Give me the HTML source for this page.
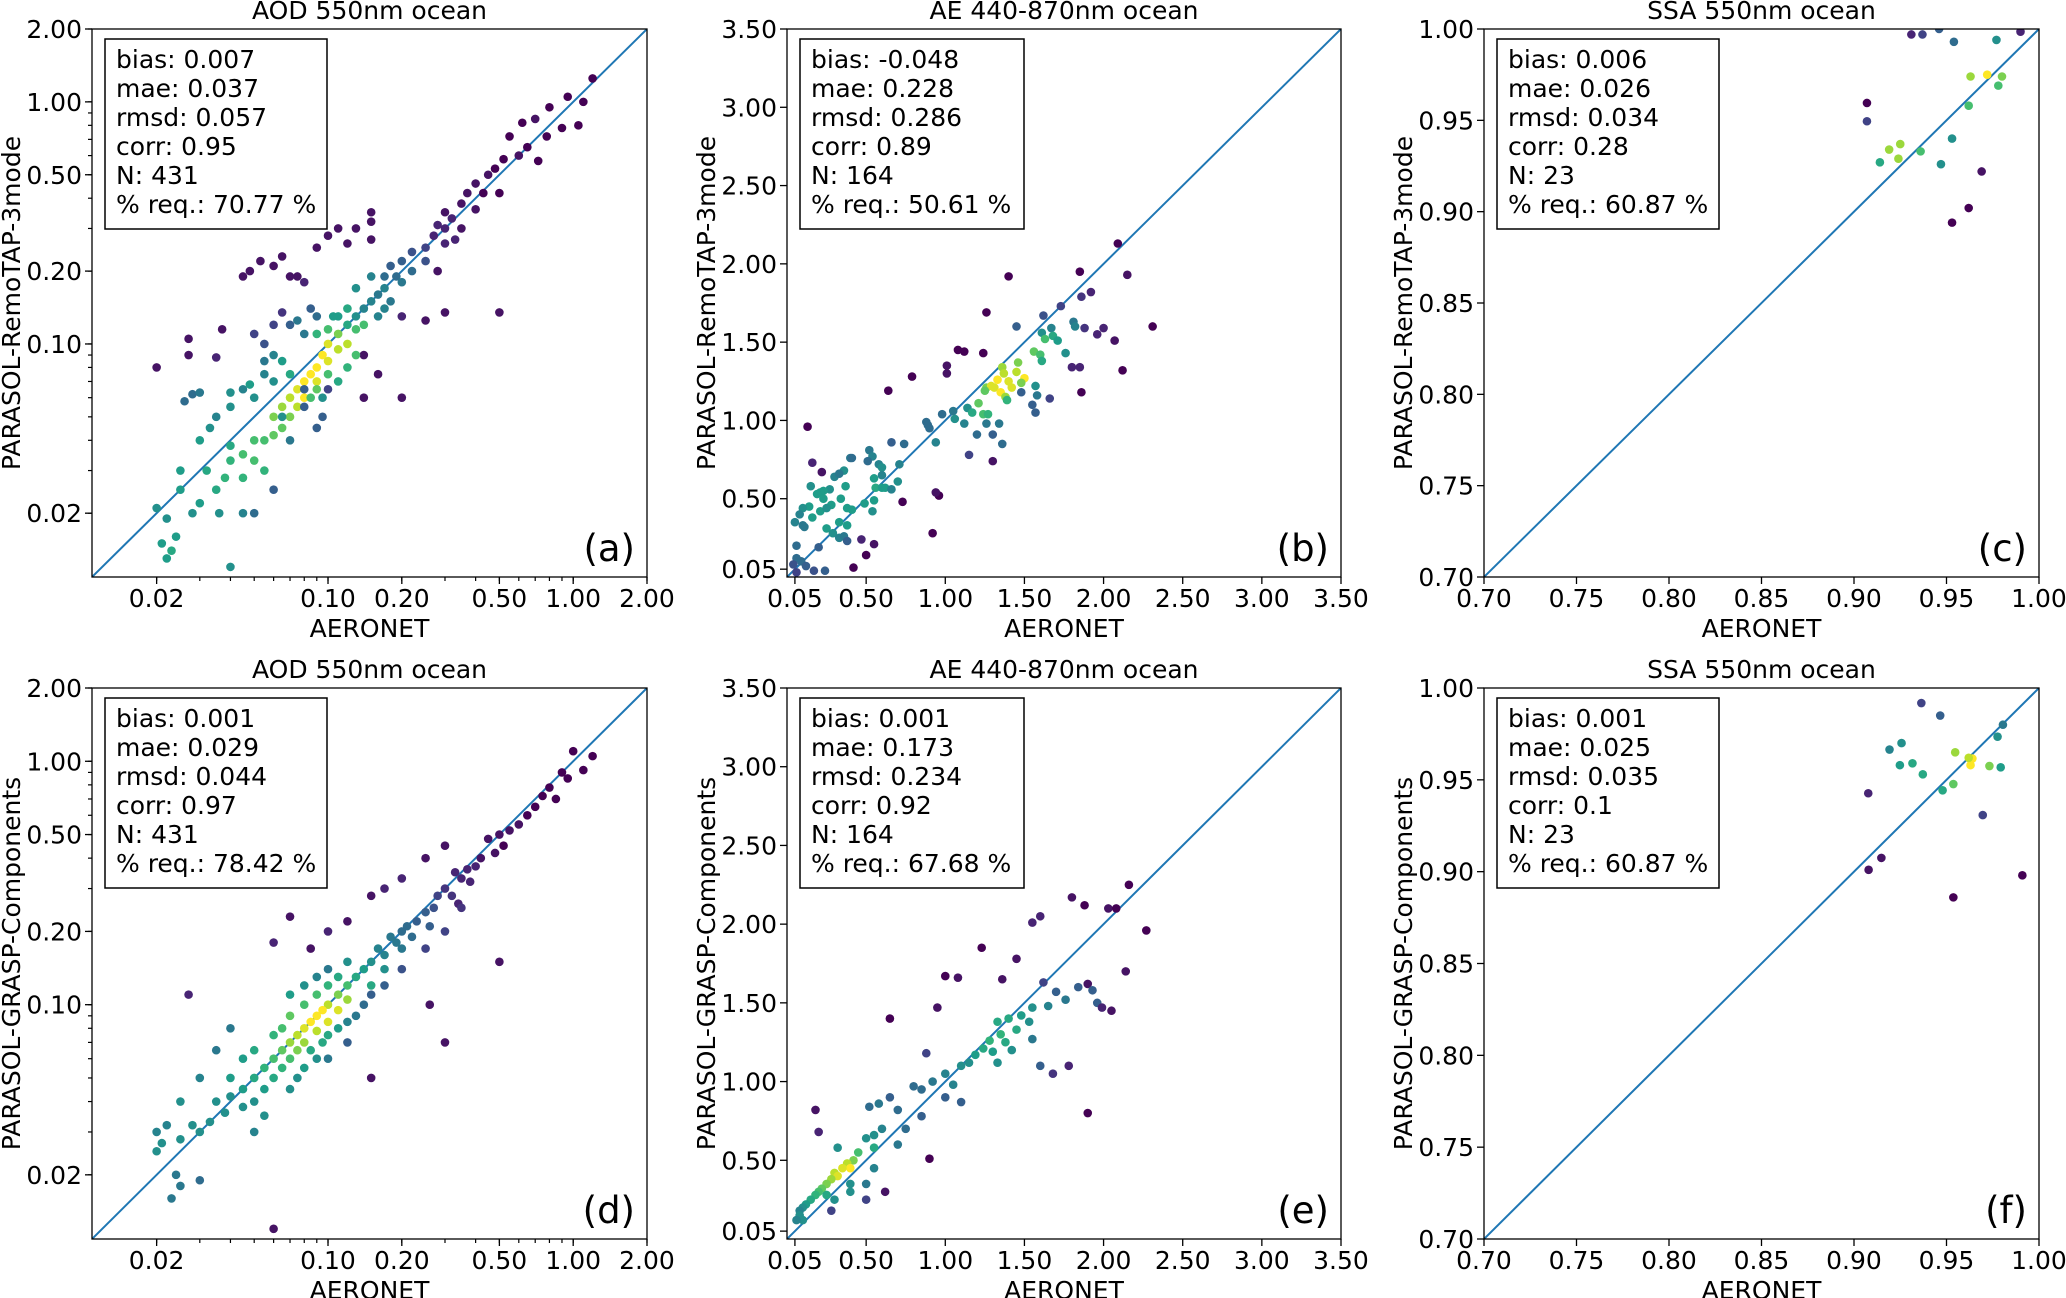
<!DOCTYPE html>
<html><head><meta charset="utf-8"><style>
html,body{margin:0;padding:0;background:#fff}
svg{display:block;font-family:"DejaVu Sans","Liberation Sans",sans-serif}
</style></head><body>
<svg id="fig" width="2066" height="1298" viewBox="0 0 2066 1298" xmlns="http://www.w3.org/2000/svg"></svg>
<script>
// ---- data arrays ----
const aodTicks=[0.02,0.1,0.2,0.5,1.0,2.0];
const aodTickLabels=["0.02","0.10","0.20","0.50","1.00","2.00"];
const aeTicks=[0.05,0.5,1.0,1.5,2.0,2.5,3.0,3.5];
const aeTickLabels=["0.05","0.50","1.00","1.50","2.00","2.50","3.00","3.50"];
const ssaTicks=[0.70,0.75,0.80,0.85,0.90,0.95,1.00];
const ssaTickLabels=["0.70","0.75","0.80","0.85","0.90","0.95","1.00"];

const aX=[1.2,0.95,1.1,0.8,0.7,0.62,0.9,1.05,0.55,0.78,0.65,0.6,0.52,0.72,0.48,0.45,0.4,0.43,0.5,0.37,0.35,0.4,0.3,0.32,0.28,0.3,0.35,0.27,0.33,0.3,0.25,0.22,0.25,0.2,0.18,0.22,0.19,0.2,0.17,0.16,0.18,0.15,0.17,0.14,0.16,0.13,0.12,0.13,0.11,0.12,0.1,0.11,0.095,0.1,0.09,0.085,0.08,0.09,0.075,0.08,0.07,0.075,0.065,0.07,0.06,0.065,0.06,0.055,0.05,0.045,0.05,0.04,0.055,0.045,0.038,0.035,0.032,0.03,0.025,0.028,0.02,0.022,0.024,0.023,0.021,0.022,0.02,0.027,0.027,0.035,0.037,0.045,0.048,0.053,0.06,0.065,0.07,0.075,0.08,0.09,0.1,0.11,0.13,0.12,0.15,0.15,0.15,0.2,0.14,0.14,0.16,0.25,0.3,0.5,0.28,0.2,0.1,0.09,0.095,0.08,0.08,0.07,0.065,0.05,0.055,0.06,0.065,0.07,0.075,0.08,0.085,0.09,0.07,0.06,0.055,0.05,0.045,0.04,0.035,0.03,0.028,0.033,0.03,0.026,0.04,0.048,0.055,0.06,0.065,0.025,0.04,0.036,0.045,0.05,0.06,0.04,0.13,0.14,0.12,0.11,0.15,0.17,0.13,0.12,0.1,0.11,0.09,0.095,0.085,0.1,0.09,0.105];
const aY=[1.25,1.05,1.0,0.95,0.85,0.82,0.78,0.8,0.72,0.72,0.65,0.6,0.58,0.57,0.53,0.5,0.46,0.42,0.42,0.42,0.38,0.36,0.35,0.33,0.31,0.3,0.3,0.28,0.27,0.26,0.25,0.24,0.22,0.22,0.21,0.2,0.19,0.18,0.19,0.16,0.15,0.15,0.14,0.14,0.13,0.13,0.12,0.115,0.11,0.1,0.1,0.095,0.09,0.085,0.08,0.075,0.07,0.07,0.065,0.06,0.06,0.055,0.055,0.05,0.05,0.045,0.042,0.04,0.04,0.035,0.033,0.033,0.03,0.028,0.028,0.025,0.03,0.022,0.025,0.02,0.021,0.019,0.016,0.014,0.015,0.013,0.08,0.105,0.09,0.088,0.115,0.19,0.2,0.22,0.21,0.23,0.19,0.19,0.18,0.25,0.28,0.3,0.3,0.26,0.35,0.32,0.27,0.06,0.09,0.06,0.075,0.125,0.135,0.135,0.2,0.13,0.065,0.045,0.05,0.065,0.055,0.04,0.05,0.11,0.1,0.12,0.135,0.12,0.125,0.11,0.14,0.13,0.075,0.07,0.075,0.06,0.065,0.055,0.05,0.04,0.062,0.045,0.063,0.058,0.063,0.068,0.085,0.09,0.085,0.03,0.038,0.02,0.02,0.02,0.025,0.012,0.17,0.12,0.14,0.13,0.19,0.17,0.09,0.08,0.075,0.07,0.065,0.06,0.06,0.115,0.11,0.13];
const aD=[0,0,0,0,0.05,0,0,0,0,0,0,0.05,0,0,0,0.05,0.05,0,0,0.05,0.05,0.05,0.05,0.1,0.1,0.1,0.05,0.1,0.1,0.1,0.2,0.25,0.25,0.3,0.3,0.35,0.35,0.4,0.35,0.4,0.4,0.45,0.45,0.45,0.45,0.5,0.6,0.7,0.8,0.9,0.95,0.9,1,0.95,1,1,1,0.95,0.95,1,0.9,0.9,0.85,0.8,0.8,0.75,0.75,0.7,0.7,0.7,0.7,0.65,0.65,0.65,0.65,0.6,0.6,0.55,0.55,0.5,0.5,0.5,0.55,0.6,0.55,0.55,0.05,0.05,0.05,0.1,0.05,0.05,0.05,0.05,0.05,0.05,0.05,0.05,0.1,0.05,0.05,0.05,0.05,0.05,0.05,0.05,0.05,0.05,0.05,0.05,0.05,0.05,0.05,0.05,0.05,0.1,0.2,0.3,0.3,0.3,0.3,0.4,0.5,0.2,0.25,0.2,0.15,0.3,0.4,0.4,0.3,0.35,0.6,0.5,0.45,0.5,0.45,0.5,0.45,0.55,0.35,0.5,0.4,0.35,0.5,0.55,0.4,0.45,0.55,0.55,0.6,0.5,0.45,0.35,0.3,0.5,0.5,0.7,0.6,0.55,0.45,0.45,0.7,0.65,0.7,0.6,0.75,0.5,0.7,0.7,0.65,0.55];

const dX=[1.2,1.0,1.1,0.9,0.95,0.8,0.75,0.85,0.7,0.65,0.6,0.55,0.5,0.52,0.45,0.48,0.42,0.4,0.37,0.35,0.33,0.38,0.3,0.32,0.28,0.34,0.27,0.25,0.23,0.26,0.21,0.22,0.2,0.19,0.18,0.2,0.17,0.16,0.15,0.17,0.14,0.13,0.15,0.12,0.11,0.12,0.1,0.11,0.095,0.09,0.1,0.085,0.08,0.09,0.075,0.08,0.07,0.075,0.065,0.07,0.06,0.065,0.055,0.06,0.05,0.055,0.045,0.05,0.04,0.045,0.038,0.035,0.033,0.03,0.028,0.025,0.02,0.021,0.022,0.024,0.025,0.023,0.03,0.06,0.05,0.055,0.04,0.045,0.05,0.06,0.065,0.07,0.08,0.09,0.1,0.11,0.12,0.1,0.09,0.08,0.07,0.085,0.09,0.095,0.1,0.11,0.12,0.13,0.14,0.08,0.075,0.07,0.1,0.12,0.15,0.17,0.2,0.25,0.3,0.35,0.5,0.26,0.3,0.15,0.027,0.06,0.07,0.085,0.1,0.12,0.15,0.17,0.2,0.25,0.3,0.04,0.035,0.03,0.025,0.02];
const dY=[1.05,1.1,0.92,0.9,0.85,0.78,0.72,0.7,0.65,0.6,0.55,0.52,0.5,0.45,0.48,0.42,0.4,0.37,0.36,0.33,0.35,0.32,0.3,0.28,0.28,0.26,0.25,0.24,0.22,0.21,0.21,0.19,0.2,0.18,0.19,0.17,0.16,0.17,0.15,0.14,0.14,0.13,0.12,0.12,0.11,0.105,0.1,0.095,0.095,0.09,0.085,0.085,0.08,0.078,0.075,0.07,0.07,0.065,0.065,0.06,0.06,0.055,0.055,0.05,0.05,0.045,0.045,0.04,0.042,0.038,0.036,0.04,0.033,0.03,0.032,0.028,0.025,0.027,0.032,0.02,0.018,0.016,0.019,0.012,0.03,0.035,0.05,0.06,0.065,0.075,0.08,0.09,0.1,0.11,0.12,0.13,0.15,0.14,0.13,0.12,0.11,0.065,0.06,0.07,0.075,0.08,0.085,0.09,0.1,0.055,0.05,0.045,0.06,0.07,0.11,0.12,0.14,0.17,0.2,0.25,0.15,0.1,0.07,0.05,0.11,0.18,0.23,0.17,0.2,0.22,0.28,0.3,0.33,0.4,0.45,0.08,0.065,0.05,0.04,0.03];
const dD=[0,0,0,0,0,0,0,0,0,0,0.05,0.05,0.05,0,0.05,0.05,0.05,0.1,0.1,0.1,0.1,0.1,0.15,0.15,0.2,0.1,0.25,0.3,0.3,0.3,0.35,0.35,0.35,0.4,0.4,0.4,0.45,0.45,0.5,0.5,0.55,0.6,0.6,0.7,0.8,0.85,0.9,0.95,1,1,0.95,1,0.95,0.9,0.9,0.85,0.85,0.8,0.75,0.7,0.7,0.65,0.65,0.6,0.6,0.55,0.55,0.5,0.5,0.5,0.5,0.5,0.5,0.5,0.5,0.5,0.5,0.5,0.45,0.4,0.4,0.4,0.35,0.05,0.45,0.5,0.55,0.55,0.6,0.65,0.7,0.75,0.7,0.7,0.65,0.6,0.5,0.4,0.45,0.5,0.55,0.6,0.5,0.6,0.6,0.55,0.45,0.4,0.35,0.55,0.5,0.5,0.4,0.3,0.3,0.3,0.25,0.2,0.2,0.15,0.05,0.05,0.05,0.05,0.1,0.1,0.05,0.05,0.1,0.05,0.05,0.1,0.1,0.05,0.05,0.4,0.4,0.45,0.5,0.45];

const bX=[2.09,1.85,2.15,1.40,1.92,1.86,1.73,1.62,1.26,1.81,1.82,1.45,1.67,1.88,2.00,1.96,2.31,2.07,1.61,1.68,1.63,1.71,1.56,1.60,1.76,1.61,1.80,1.85,2.12,1.86,1.46,1.36,1.37,1.45,1.50,1.40,1.31,1.35,1.26,1.38,1.42,1.33,1.29,1.25,1.48,1.57,1.58,1.39,1.66,1.55,1.57,1.48,1.08,1.12,1.24,1.01,1.01,0.79,0.64,1.05,1.14,1.17,1.24,1.27,1.21,1.26,1.12,1.20,1.34,1.30,1.36,0.98,1.06,0.90,0.88,0.89,0.94,1.15,1.30,0.66,0.74,0.52,0.54,0.51,0.40,0.41,0.58,0.60,0.71,0.70,0.55,0.60,0.36,0.30,0.33,0.22,0.16,0.37,0.56,0.60,0.62,0.66,0.27,0.23,0.21,0.15,0.19,0.23,0.34,0.28,0.55,0.49,0.38,0.41,0.54,0.14,0.10,0.21,0.25,0.16,0.33,0.38,0.25,0.08,0.05,0.10,0.11,0.29,0.33,0.36,0.38,0.47,0.50,0.55,0.73,0.13,0.20,0.06,0.06,0.09,0.12,0.04,0.06,0.17,0.24,0.42,0.92,0.96,0.94];
const bY=[2.13,1.95,1.93,1.92,1.82,1.79,1.73,1.67,1.69,1.63,1.60,1.60,1.59,1.59,1.59,1.55,1.60,1.51,1.56,1.54,1.52,1.51,1.44,1.42,1.43,1.38,1.34,1.34,1.32,1.18,1.37,1.34,1.30,1.31,1.27,1.25,1.21,1.18,1.21,1.15,1.21,1.26,1.22,1.19,1.24,1.22,1.16,1.13,1.14,1.10,1.05,1.18,1.45,1.44,1.43,1.30,1.35,1.28,1.19,1.06,1.08,1.05,1.04,1.04,1.11,0.98,0.98,0.91,0.98,0.91,0.85,1.04,1.01,0.95,0.99,0.97,0.86,0.78,0.74,0.86,0.85,0.81,0.77,0.74,0.76,0.76,0.72,0.70,0.72,0.61,0.63,0.65,0.68,0.64,0.66,0.67,0.73,0.58,0.57,0.57,0.57,0.56,0.56,0.55,0.54,0.58,0.53,0.50,0.50,0.46,0.49,0.47,0.44,0.43,0.42,0.45,0.44,0.42,0.44,0.38,0.35,0.33,0.31,0.40,0.35,0.33,0.32,0.28,0.25,0.26,0.23,0.24,0.14,0.21,0.48,0.96,0.19,0.20,0.12,0.10,0.07,0.08,0.03,0.04,0.04,0.06,0.28,0.52,0.54];
const bD=[0,0,0.05,0,0.1,0.15,0.2,0.25,0,0.4,0.45,0.3,0.45,0.15,0.1,0.1,0,0.05,0.5,0.6,0.7,0.55,0.75,0.7,0.5,0.6,0.1,0.1,0,0,0.8,0.85,0.9,0.9,1,0.95,0.95,1,0.8,0.85,0.95,1,0.95,0.75,0.8,0.5,0.4,0.65,0.2,0.3,0.3,0.3,0,0,0,0.05,0.05,0,0,0.4,0.5,0.6,0.7,0.65,0.75,0.4,0.45,0.35,0.4,0.3,0.35,0.35,0.5,0.35,0.35,0.35,0.45,0.2,0.05,0.3,0.35,0.4,0.45,0.35,0.4,0.35,0.45,0.5,0.45,0.5,0.55,0.45,0.5,0.45,0.4,0.05,0.1,0.55,0.6,0.55,0.55,0.45,0.5,0.55,0.55,0.5,0.55,0.55,0.55,0.55,0.55,0.55,0.55,0.55,0.5,0.55,0.5,0.55,0.5,0.55,0.55,0.55,0.55,0.45,0.45,0.4,0.4,0.5,0.45,0.4,0.3,0.1,0,0.05,0,0,0.3,0.35,0.35,0.35,0.3,0.25,0.2,0.25,0.3,0,0,0,0.05];

const eX=[2.16,1.80,2.03,2.08,1.88,1.60,1.55,2.27,1.23,1.00,0.65,1.45,1.36,1.08,1.90,1.62,1.70,1.84,1.93,1.96,1.99,2.05,2.14,1.76,1.65,1.55,1.48,1.40,1.53,1.33,1.45,1.35,1.28,1.38,1.24,1.30,1.19,1.42,1.33,1.55,1.60,1.68,1.78,1.90,1.10,1.15,1.00,1.05,0.92,0.88,0.95,0.80,0.85,1.00,1.10,0.65,0.70,0.58,0.52,0.60,0.55,0.50,0.55,0.45,0.42,0.38,0.40,0.35,0.30,0.32,0.28,0.25,0.22,0.20,0.18,0.15,0.12,0.10,0.08,0.08,0.10,0.06,0.18,0.20,0.32,0.55,0.50,0.40,0.25,0.30,0.40,0.70,0.75,0.85,0.90,0.62,0.50,0.28];
const eY=[2.25,2.17,2.10,2.10,2.12,2.05,2.01,1.96,1.85,1.67,1.40,1.78,1.65,1.66,1.62,1.63,1.57,1.60,1.58,1.50,1.47,1.45,1.70,1.52,1.48,1.47,1.42,1.40,1.38,1.38,1.33,1.30,1.26,1.25,1.21,1.19,1.17,1.20,1.12,1.27,1.10,1.05,1.10,0.80,1.10,1.12,1.05,0.98,1.00,1.18,1.47,0.97,0.95,0.90,0.87,0.90,0.82,0.86,0.84,0.70,0.66,0.64,0.58,0.55,0.50,0.48,0.45,0.45,0.42,0.40,0.38,0.35,0.32,0.30,0.28,0.25,0.22,0.20,0.18,0.15,0.12,0.12,0.82,0.68,0.58,0.45,0.35,0.35,0.28,0.25,0.30,0.60,0.70,0.78,0.51,0.30,0.25,0.18];
const eD=[0,0.05,0.05,0,0,0.1,0.1,0,0,0,0,0.05,0.05,0.05,0.05,0.2,0.3,0.3,0.3,0.3,0.1,0.05,0.05,0.4,0.45,0.5,0.55,0.6,0.5,0.6,0.6,0.65,0.65,0.6,0.6,0.55,0.55,0.5,0.5,0.4,0.3,0.15,0.1,0,0.5,0.5,0.45,0.45,0.4,0.2,0.05,0.35,0.35,0.3,0.3,0.3,0.35,0.4,0.35,0.45,0.5,0.5,0.6,0.7,0.8,0.9,1,0.95,0.9,0.95,0.85,0.8,0.75,0.7,0.65,0.6,0.55,0.5,0.45,0.5,0.5,0.45,0.05,0.1,0.5,0.45,0.4,0.5,0.6,0.5,0.5,0.4,0.35,0.3,0,0.05,0.2,0.2];

const cX=[0.931,0.937,0.946,0.954,0.977,0.990,0.963,0.972,0.980,0.978,0.962,0.907,0.907,0.953,0.919,0.925,0.936,0.914,0.924,0.947,0.969,0.962,0.953];
const cY=[0.997,0.997,1.000,0.993,0.994,0.9985,0.974,0.975,0.974,0.969,0.958,0.9595,0.9495,0.940,0.934,0.937,0.933,0.927,0.929,0.926,0.922,0.902,0.894];
const cD=[0.1,0.2,0.3,0.35,0.5,0.1,0.85,1,0.8,0.7,0.7,0,0.2,0.5,0.85,0.85,0.7,0.6,0.85,0.5,0.05,0,0];

const fX=[0.9364,0.9466,0.9805,0.9776,0.9257,0.9192,0.9547,0.964,0.963,0.9248,0.9316,0.9732,0.9793,0.9372,0.9537,0.9479,0.9077,0.9696,0.9148,0.9079,0.991,0.9537,0.962];
const fY=[0.9918,0.985,0.980,0.9735,0.970,0.9665,0.965,0.9616,0.958,0.958,0.959,0.9575,0.9568,0.953,0.9477,0.9443,0.9427,0.9308,0.9075,0.901,0.898,0.886,0.962];
const fD=[0.2,0.3,0.4,0.5,0.5,0.45,0.85,1,1,0.55,0.6,0.8,0.55,0.6,0.75,0.6,0.1,0.2,0.05,0.05,0,0,0.9];

const statsA=["bias: 0.007","mae: 0.037","rmsd: 0.057","corr: 0.95","N: 431","% req.: 70.77 %"];
const statsB=["bias: -0.048","mae: 0.228","rmsd: 0.286","corr: 0.89","N: 164","% req.: 50.61 %"];
const statsC=["bias: 0.006","mae: 0.026","rmsd: 0.034","corr: 0.28","N: 23","% req.: 60.87 %"];
const statsD=["bias: 0.001","mae: 0.029","rmsd: 0.044","corr: 0.97","N: 431","% req.: 78.42 %"];
const statsE=["bias: 0.001","mae: 0.173","rmsd: 0.234","corr: 0.92","N: 164","% req.: 67.68 %"];
const statsF=["bias: 0.001","mae: 0.025","rmsd: 0.035","corr: 0.1","N: 23","% req.: 60.87 %"];

// ---- rendering ----
const NS="http://www.w3.org/2000/svg";
const svg=document.getElementById('fig');
function mk(tag,attrs,parent){const e=document.createElementNS(NS,tag);for(const k in attrs)e.setAttribute(k,attrs[k]);(parent||svg).appendChild(e);return e;}
const VIR=[[68,1,84],[72,40,120],[62,74,137],[49,104,142],[38,130,142],[31,158,137],[53,183,121],[109,205,89],[180,222,44],[253,231,37]];
function viridis(t){t=Math.max(0,Math.min(1,t))*(VIR.length-1);const i=Math.min(Math.floor(t),VIR.length-2),f=t-i;const c=VIR[i].map((v,k)=>Math.round(v+(VIR[i+1][k]-v)*f));return `rgb(${c[0]},${c[1]},${c[2]})`;}
const FS=25;
function panel(o){
  const g=mk('g',{});
  
  
  const L=o.x,T=o.y,W=o.w,H=o.h;
  const tr=o.log?(v=>Math.log10(v)):(v=>v);
  const lo=tr(o.min),hi=tr(o.max);
  const sx=v=>L+(tr(v)-lo)/(hi-lo)*W;
  const sy=v=>T+H-(tr(v)-lo)/(hi-lo)*H;
  const t=mk('text',{x:L+W/2,y:T-10,'text-anchor':'middle','font-size':FS,fill:'#000'},g);t.textContent=o.title;
  
  if(o.log){for(let d=-2;d<=0;d++)for(let m=1;m<10;m++){const v=m*Math.pow(10,d);if(v<o.min||v>o.max)continue;
    mk('line',{x1:sx(v),x2:sx(v),y1:T+H,y2:T+H+4,stroke:'#000','stroke-width':1.2},g);
    mk('line',{x1:L,x2:L-4,y1:sy(v),y2:sy(v),stroke:'#000','stroke-width':1.2},g);}}
  o.ticks.forEach((v,i)=>{
    mk('line',{x1:sx(v),x2:sx(v),y1:T+H,y2:T+H+7,stroke:'#000','stroke-width':1.3},g);
    mk('line',{x1:L,x2:L-7,y1:sy(v),y2:sy(v),stroke:'#000','stroke-width':1.3},g);
    const xl=mk('text',{x:sx(v),y:T+H+30,'text-anchor':'middle','font-size':FS},g);xl.textContent=o.labels[i];
    
    const yl=mk('text',{x:L-10,y:sy(v)+9,'text-anchor':'end','font-size':FS},g);yl.textContent=o.labels[i];
    
  });
  const xa=mk('text',{x:L+W/2,y:T+H+60,'text-anchor':'middle','font-size':FS},g);xa.textContent='AERONET';
  
  const ya=mk('text',{x:0,y:0,'text-anchor':'middle','font-size':FS,transform:`translate(${L-72},${T+H/2}) rotate(-90)`},g);ya.textContent=o.ylabel;
  
  const cid='clip'+o.tag;const cp=mk('clipPath',{id:cid},g);mk('rect',{x:L,y:T,width:W,height:H},cp);
  const pg=mk('g',{'clip-path':`url(#${cid})`},g);
  const ln=mk('line',{x1:sx(o.min),y1:sy(o.min),x2:sx(o.max),y2:sy(o.max),stroke:'#1f77b4','stroke-width':2},pg);
  
  o.xs.forEach((xv,i)=>{
    const c=mk('circle',{cx:sx(xv),cy:sy(o.ys[i]),r:4.3,fill:viridis(o.ds[i])},pg);
    
    
  });
  mk('rect',{x:L,y:T,width:W,height:H,fill:'none',stroke:'#000','stroke-width':1.3},g);
  const bx=mk('rect',{x:L+13,y:T+10,width:o.bw,height:190,fill:'#fff',stroke:'#000','stroke-width':1.5},g);
  
  o.stats.forEach((s,i)=>{const st=mk('text',{x:L+24,y:T+39+i*29,'font-size':FS},g);st.textContent=s;
    });
  const pl=mk('text',{x:L+W-12,y:T+H-16,'text-anchor':'end','font-size':37},g);pl.textContent=o.letter;
  
}
const colX=[92,787,1484],colW=[555,554,555],rowY=[29,688],rowH=[548,551];
const Y1='PARASOL-RemoTAP-3mode',Y2='PARASOL-GRASP-Components';
panel({name:'panel-a',tag:'a',x:colX[0],y:rowY[0],w:colW[0],h:rowH[0],log:true,min:0.0109,max:2,ticks:aodTicks,labels:aodTickLabels,title:'AOD 550nm ocean',ylabel:Y1,xs:aX,ys:aY,ds:aD,stats:statsA,letter:'(a)',bw:222});
panel({name:'panel-b',tag:'b',x:colX[1],y:rowY[0],w:colW[1],h:rowH[0],log:false,min:0,max:3.5,ticks:aeTicks,labels:aeTickLabels,title:'AE 440-870nm ocean',ylabel:Y1,xs:bX,ys:bY,ds:bD,stats:statsB,letter:'(b)',bw:224});
panel({name:'panel-c',tag:'c',x:colX[2],y:rowY[0],w:colW[2],h:rowH[0],log:false,min:0.7,max:1.0,ticks:ssaTicks,labels:ssaTickLabels,title:'SSA 550nm ocean',ylabel:Y1,xs:cX,ys:cY,ds:cD,stats:statsC,letter:'(c)',bw:222});
panel({name:'panel-d',tag:'d',x:colX[0],y:rowY[1],w:colW[0],h:rowH[1],log:true,min:0.0109,max:2,ticks:aodTicks,labels:aodTickLabels,title:'AOD 550nm ocean',ylabel:Y2,xs:dX,ys:dY,ds:dD,stats:statsD,letter:'(d)',bw:222});
panel({name:'panel-e',tag:'e',x:colX[1],y:rowY[1],w:colW[1],h:rowH[1],log:false,min:0,max:3.5,ticks:aeTicks,labels:aeTickLabels,title:'AE 440-870nm ocean',ylabel:Y2,xs:eX,ys:eY,ds:eD,stats:statsE,letter:'(e)',bw:224});
panel({name:'panel-f',tag:'f',x:colX[2],y:rowY[1],w:colW[2],h:rowH[1],log:false,min:0.7,max:1.0,ticks:ssaTicks,labels:ssaTickLabels,title:'SSA 550nm ocean',ylabel:Y2,xs:fX,ys:fY,ds:fD,stats:statsF,letter:'(f)',bw:222});
</script>
</body></html>
